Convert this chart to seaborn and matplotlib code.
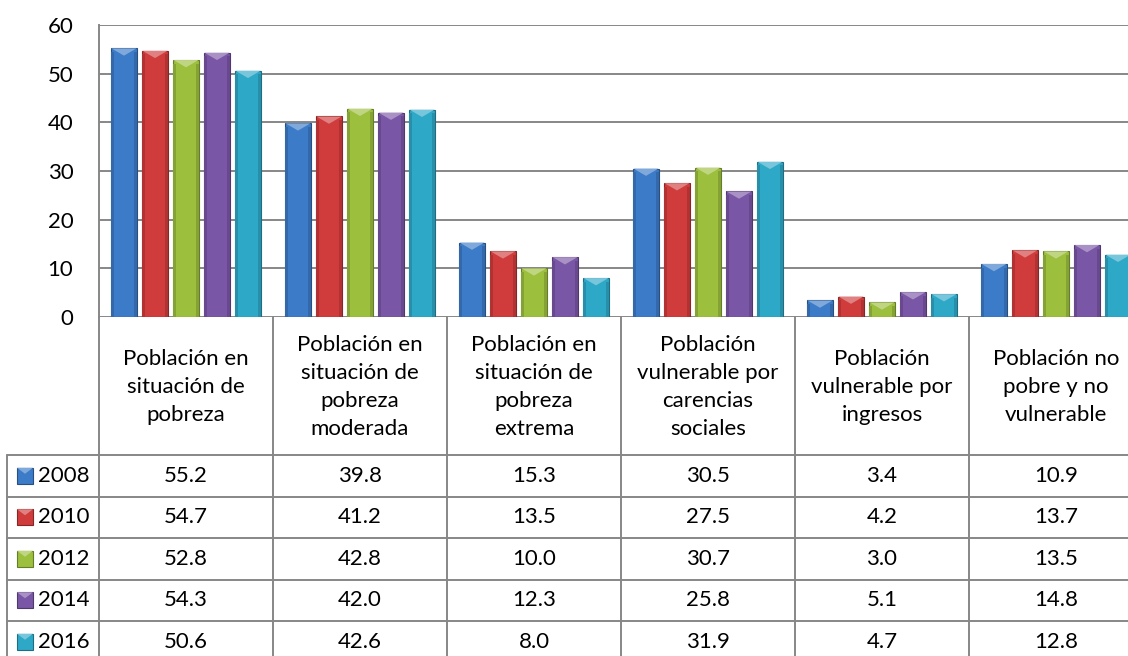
import numpy as np
import pandas as pd
import matplotlib
matplotlib.use("Agg")
import matplotlib.pyplot as plt
import matplotlib.transforms as mtrans
from matplotlib.patches import Polygon, Rectangle
from matplotlib.lines import Line2D
from matplotlib.colors import to_rgb
import seaborn as sns

# ---------------- data ----------------
categories = [
    "Población en\nsituación de\npobreza",
    "Población en\nsituación de\npobreza\nmoderada",
    "Población en\nsituación de\npobreza\nextrema",
    "Población\nvulnerable por\ncarencias\nsociales",
    "Población\nvulnerable por\ningresos",
    "Población no\npobre y no\nvulnerable",
]
years = ["2008", "2010", "2012", "2014", "2016"]
v2008 = [55.2, 39.8, 15.3, 30.5, 3.4, 10.9]
v2010 = [54.7, 41.2, 13.5, 27.5, 4.2, 13.7]
v2012 = [52.8, 42.8, 10.0, 30.7, 3.0, 13.5]
v2014 = [54.3, 42.0, 12.3, 25.8, 5.1, 14.8]
v2016 = [50.6, 42.6, 8.0, 31.9, 4.7, 12.8]
series = [v2008, v2010, v2012, v2014, v2016]
yticks = [0, 10, 20, 30, 40, 50, 60]

colors = ["#3C7BC8", "#D03B3B", "#9CBF3E", "#7A56A6", "#2EA8C7"]

rows = []
for yr, vals in zip(years, series):
    for c, v in zip(categories, vals):
        rows.append({"cat": c, "year": yr, "val": v})
df = pd.DataFrame(rows)

# ---------------- figure ----------------
sns.set_style("white")
plt.rcParams["font.family"] = ["Lato", "DejaVu Sans"]

W, H = 1128, 656
fig = plt.figure(figsize=(W / 100, H / 100), dpi=100)


def fx(px):
    return px / W


def fy(py):
    return 1 - py / H


GRID = "#878787"
LW = 1.4
FS = 16

ax = fig.add_axes([fx(99), fy(317), fx(1143) - fx(99), fy(25) - fy(317)])
sns.barplot(data=df, x="cat", y="val", hue="year", palette=colors,
            width=0.891, gap=0.19, legend=False, ax=ax, errorbar=None,
            saturation=1)

ax.set_xlim(-0.5, len(categories) - 0.5)
ax.set_ylim(0, 60)
ax.set_yticks(yticks)
ax.set_yticklabels([str(t) for t in yticks])
ax.yaxis.grid(True, color=GRID, linewidth=LW)
ax.set_axisbelow(True)
ax.tick_params(axis="y", length=0, pad=18.5, labelsize=FS, labelcolor="black")
ax.tick_params(axis="x", length=0, labelbottom=False)
ax.set_xlabel("")
ax.set_ylabel("")
for s in ["top", "right", "bottom"]:
    ax.spines[s].set_visible(False)
ax.spines["left"].set_color(GRID)
ax.spines["left"].set_linewidth(LW)


def shade(c, f):
    r, g, b = to_rgb(c)
    if f >= 0:
        return (r + (1 - r) * f, g + (1 - g) * f, b + (1 - b) * f)
    f = -f
    return (r * (1 - f), g * (1 - f), b * (1 - f))


# bevel styling on the bars drawn by seaborn
for p in list(ax.patches):
    fc = p.get_facecolor()
    p.set_edgecolor(shade(fc, -0.35))
    p.set_linewidth(0.8)
    x0 = p.get_x()
    w = p.get_width()
    h = p.get_height()
    d = 1.5
    if h >= d:
        pts = [(x0, h), (x0 + w, h), (x0 + w / 2, h - d)]
    else:
        k = h / d
        pts = [(x0, h), (x0 + w, h), (x0 + w / 2 + w / 2 * (1 - k), 0),
               (x0 + w / 2 - w / 2 * (1 - k), 0)]
    ax.add_patch(Polygon(pts, closed=True, facecolor=shade(fc, 0.35),
                         edgecolor="none", zorder=p.get_zorder() + 0.1))
    ax.add_patch(Rectangle((x0, 0), w * 0.12, max(h - d * 0.5, 0),
                           facecolor=shade(fc, -0.15), edgecolor="none",
                           zorder=p.get_zorder() + 0.05))
    ax.add_patch(Rectangle((x0 + w * 0.88, 0), w * 0.12, max(h - d * 0.5, 0),
                           facecolor=shade(fc, -0.15), edgecolor="none",
                           zorder=p.get_zorder() + 0.05))

# ---------------- data table ----------------
trans = mtrans.blended_transform_factory(ax.transData, fig.transFigure)
header_top, header_bot = 317, 455
row_h = 41.5
row_lines = [header_bot + i * row_h for i in range(len(years) + 1)]

for i in range(len(categories) + 1):
    fig.add_artist(Line2D([i - 0.5, i - 0.5], [fy(header_top), fy(row_lines[-1])],
                          transform=trans, color=GRID, linewidth=LW))
fig.add_artist(Line2D([fx(7), fx(7)], [fy(header_bot), fy(row_lines[-1])],
                      transform=fig.transFigure, color=GRID, linewidth=LW))
for yl in row_lines:
    fig.add_artist(Line2D([fx(7), 1.05], [fy(yl), fy(yl)],
                          transform=fig.transFigure, color=GRID, linewidth=LW))

for i, c in enumerate(categories):
    fig.text(i, fy((header_top + header_bot) / 2 + 1), c, transform=trans,
             ha="center", va="center", fontsize=FS, linespacing=1.48,
             color="black")

for r, (yr, vals, col) in enumerate(zip(years, series, colors)):
    yc = (row_lines[r] + row_lines[r + 1]) / 2
    for i, v in enumerate(vals):
        fig.text(i, fy(yc), f"{v:.1f}", transform=trans, ha="center",
                 va="center", fontsize=FS, color="black")
    fig.add_artist(Rectangle((fx(17), fy(yc + 8)), fx(16), fy(0) - fy(16),
                             transform=fig.transFigure, facecolor=col,
                             edgecolor=shade(col, -0.35), linewidth=0.8))
    fig.add_artist(Polygon([(fx(17), fy(yc - 8)), (fx(33), fy(yc - 8)),
                            (fx(25), fy(yc - 2))], closed=True,
                           transform=fig.transFigure,
                           facecolor=shade(col, 0.35), edgecolor="none"))
    fig.text(fx(38), fy(yc), yr, ha="left", va="center", fontsize=FS,
             color="black")

fig.savefig("out.png", dpi=100)
